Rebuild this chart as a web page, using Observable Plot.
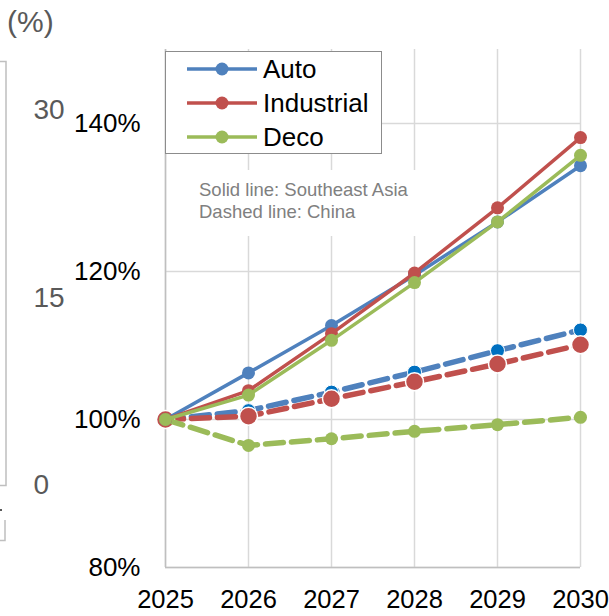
<!DOCTYPE html>
<html>
<head>
<meta charset="utf-8">
<script src="https://cdn.jsdelivr.net/npm/d3@7"></script>
<script src="https://cdn.jsdelivr.net/npm/@observablehq/plot@0.6"></script>
<style>
  html, body { margin: 0; padding: 0; background: #fff; }
  #wrap { position: relative; width: 609px; height: 616px; overflow: hidden; font-family: "Liberation Sans", Arial, sans-serif; }
  #main, #side { position: absolute; left: 0; top: 0; }
  #legend { position: absolute; left: 165px; top: 51px; width: 217px; height: 103px; border: 1px solid #8c8c8c; background: #fff; box-sizing: border-box; }
  .lg { position: absolute; left: 0; height: 34px; width: 216px; }
  .lg svg { position: absolute; left: 0; top: 0; }
  .lg span { position: absolute; left: 97px; top: 1px; font-size: 26px; line-height: 32px; color: #000; }
  #note { position: absolute; left: 190px; top: 170px; width: 240px; height: 66px; background: #fff; color: #808080; font-size: 18.5px; line-height: 22px; padding-top: 9px; padding-left: 9px; box-sizing: border-box; white-space: nowrap; }
  #pct { position: absolute; left: 7px; top: 5px; font-size: 30px; color: #595959; }
</style>
</head>
<body>
<div id="wrap">
  <div id="side"></div>
  <div id="main"></div>
  <div id="pct">(%)</div>
  <div id="legend"></div>
  <div id="note">Solid line: Southeast Asia<br>Dashed line: China</div>
</div>
<script>
// ---- data ----
const years = [2025, 2026, 2027, 2028, 2029, 2030];
const segments = ["Auto", "Industrial", "Deco"];
const segmentColors = ["#4f81bd", "#c0504d", "#9bbb59"];
// Southeast Asia (solid lines), index 2025 = 100%
const seaAuto       = [100, 106.3, 112.7, 119.5, 126.7, 134.3];
const seaIndustrial = [100, 103.9, 111.6, 119.8, 128.6, 138.1];
const seaDeco       = [100, 103.3, 110.7, 118.5, 126.7, 135.7];
// China (dashed lines)
const chinaAuto       = [100, 101.2, 103.7, 106.4, 109.3, 112.1];
const chinaIndustrial = [100, 100.45, 102.8, 105.1, 107.5, 110.1];
const chinaDeco       = [100, 96.5, 97.4, 98.4, 99.3, 100.3];
// tick labels
const yTicks = [80, 100, 120, 140];
const sideTicks = [0, 15, 30]; // remnant secondary axis on the left edge

const sea = {Auto: seaAuto, Industrial: seaIndustrial, Deco: seaDeco};
const china = {Auto: chinaAuto, Industrial: chinaIndustrial, Deco: chinaDeco};
const rows = (obj, region) => segments.flatMap(s => obj[s].map((v, i) => ({year: years[i], value: v, segment: s, region})));
const seaRows = rows(sea, "SEA");
const chinaRows = rows(china, "China");
const colorOf = s => segmentColors[segments.indexOf(s)];

const chinaDotStyle = {
  Auto: {r: 7, fill: "#0070c0", stroke: "#fff", strokeWidth: 1},
  Industrial: {r: 9, fill: "#c0504d", stroke: "#fff", strokeWidth: 1.5},
  Deco: {r: 6.5, fill: "#9bbb59", stroke: "none", strokeWidth: 0}
};

const marks = [
  Plot.gridX(years, {stroke: "#d9d9d9", strokeOpacity: 1, strokeWidth: 1.5}),
  Plot.gridY(yTicks, {stroke: "#d9d9d9", strokeOpacity: 1, strokeWidth: 1.5}),
  Plot.ruleY([80], {stroke: "#bfbfbf", strokeWidth: 1.5}),
  Plot.ruleX([2025], {stroke: "#bfbfbf", strokeWidth: 1.5}),
  Plot.axisY({ticks: yTicks, tickFormat: d => d + "%", tickSize: 0, tickPadding: 25, fontSize: 26, color: "#000", label: null}),
  Plot.axisX({ticks: years, tickFormat: d => String(d), tickSize: 0, tickPadding: 22, fontSize: 25.5, color: "#000", label: null})
];
for (const s of segments) {
  const data = chinaRows.filter(d => d.segment === s);
  marks.push(Plot.line(data, {x: "year", y: "value", stroke: colorOf(s), strokeWidth: 5.5, strokeDasharray: "18,8"}));
  const st = chinaDotStyle[s];
  marks.push(Plot.dot(data, {x: "year", y: "value", r: st.r, fill: st.fill, stroke: st.stroke, strokeWidth: st.strokeWidth}));
}
for (const s of segments) {
  const data = seaRows.filter(d => d.segment === s);
  marks.push(Plot.line(data, {x: "year", y: "value", stroke: colorOf(s), strokeWidth: 3.5}));
  marks.push(Plot.dot(data, {x: "year", y: "value", r: 6.5, fill: colorOf(s)}));
}

const chart = Plot.plot({
  width: 609, height: 616,
  marginLeft: 165, marginRight: 29, marginTop: 49, marginBottom: 49,
  style: {fontFamily: "'Liberation Sans', Arial, sans-serif", background: "transparent", overflow: "visible"},
  x: {domain: [2025, 2030], axis: null},
  y: {domain: [80, 150], axis: null},
  marks
});
document.getElementById("main").appendChild(chart);

// remnant of a neighbouring chart at the left edge
const side = Plot.plot({
  width: 75, height: 616,
  marginLeft: 33, marginRight: 0, marginTop: 110, marginBottom: 131,
  style: {fontFamily: "'Liberation Sans', Arial, sans-serif", background: "transparent"},
  x: {axis: null, domain: [0, 1]},
  y: {domain: [0, 30], axis: null},
  marks: [
    Plot.text(sideTicks, {y: d => d, text: d => String(d), frameAnchor: "left", textAnchor: "start", fontSize: 28, fill: "#595959"})
  ]
});
document.getElementById("side").appendChild(side);
const sv = d3.select(side);
const g = sv.append("g").attr("fill", "none").attr("stroke", "#bfbfbf").attr("stroke-width", 1.5);
g.append("path").attr("d", "M0,61.5H6V485.5H0");
g.append("path").attr("d", "M5,520V540.5H0");
sv.append("rect").attr("x", 0).attr("y", 509).attr("width", 2).attr("height", 2).attr("fill", "#595959");

// legend
const legend = d3.select("#legend");
segments.forEach((s, i) => {
  const row = legend.append("div").attr("class", "lg").style("top", (i * 34) + "px");
  const svg = row.append("svg").attr("width", 100).attr("height", 34);
  svg.append("line").attr("x1", 21).attr("x2", 91).attr("y1", 17).attr("y2", 17).attr("stroke", segmentColors[i]).attr("stroke-width", 3.5);
  svg.append("circle").attr("cx", 56).attr("cy", 17).attr("r", 6.5).attr("fill", segmentColors[i]);
  row.append("span").text(s);
});
</script>
</body>
</html>
